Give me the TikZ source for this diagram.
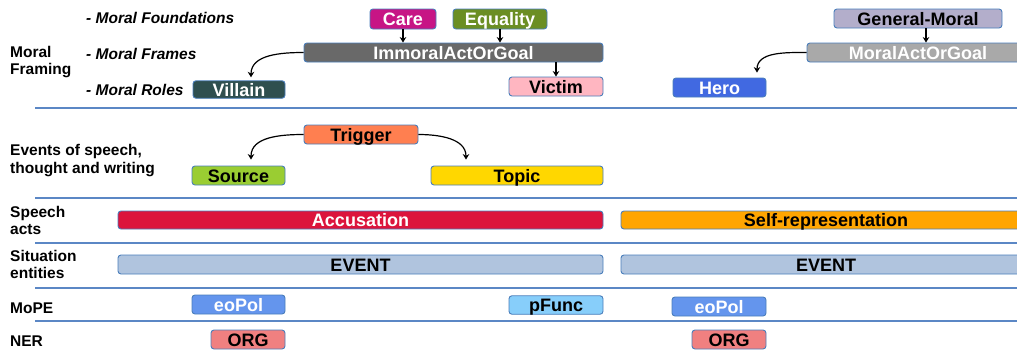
\documentclass[tikz,border=0pt]{standalone}
\usepackage{fontspec}
\setmainfont{Liberation Sans}
\usetikzlibrary{arrows.meta}
\definecolor{boxblue}{HTML}{4A7EBB}
\definecolor{sepblue}{HTML}{5B87C5}
\definecolor{cCare}{HTML}{C71585}
\definecolor{cEquality}{HTML}{6B8E23}
\definecolor{cImm}{HTML}{696969}
\definecolor{cVillain}{HTML}{2F4F4F}
\definecolor{cVictim}{HTML}{FFB6C1}
\definecolor{cGen}{HTML}{B3AECB}
\definecolor{cMoral}{HTML}{A9A9A9}
\definecolor{cHero}{HTML}{4169E1}
\definecolor{cTrigger}{HTML}{FF7F50}
\definecolor{cSource}{HTML}{9ACD32}
\definecolor{cTopic}{HTML}{FFD700}
\definecolor{cAcc}{HTML}{DC143C}
\definecolor{cSelf}{HTML}{FFA500}
\definecolor{cEvent}{HTML}{B0C4DE}
\definecolor{cEoPol}{HTML}{6495ED}
\definecolor{cPFunc}{HTML}{87CEFA}
\definecolor{cOrg}{HTML}{F08080}
\begin{document}
\begin{tikzpicture}[x=1pt,y=-1pt,
  box/.style={draw=boxblue, line width=0.9pt, rounded corners=3pt, inner sep=0pt,
    font=\fontsize{18}{18}\selectfont\bfseries, text height=13pt, text depth=0pt},
  wt/.style={text=white},
  lbl/.style={anchor=base west, inner sep=0pt, align=left,
    font=\fontsize{15.5}{17}\selectfont\bfseries},
  ilbl/.style={anchor=base west, inner sep=0pt,
    font=\fontsize{15.5}{17}\selectfont\bfseries\itshape},
  sep/.style={draw=sepblue, line width=1.2pt},
  arr/.style={draw=black, line width=1.2pt, -{Stealth[length=5.5pt,width=6.5pt]}}]
\clip (0,0) rectangle (1017,351);
\useasboundingbox (0,0) rectangle (1017,351);

% left labels (base anchor = baseline of the last line)
\node[lbl] (lMF) at (10,74) {Moral\\Framing};
\node[ilbl] (lFound) at (86,23.3) {- Moral Foundations};
\node[ilbl] (lFrames) at (86,59) {- Moral Frames};
\node[ilbl] (lRoles) at (86,95) {- Moral Roles};
\node[lbl] (lEv) at (10,173) {Events of speech,\\[1pt]thought and writing};
\node[lbl] (lSp) at (10,234.5) {Speech\\acts};
\node[lbl] (lSit) at (10,278.5) {Situation\\entities};
\node[lbl] (lMoPE) at (10,313) {MoPE};
\node[lbl] (lNER) at (10,346) {NER};

% separators
\coordinate (s1a) at (35,108); \coordinate (s1b) at (1017,108);
\coordinate (s2a) at (35,198); \coordinate (s2b) at (1017,198);
\coordinate (s3a) at (35,243); \coordinate (s3b) at (1017,243);
\coordinate (s4a) at (35,288); \coordinate (s4b) at (1017,288);
\coordinate (s5a) at (35,321); \coordinate (s5b) at (1017,321);
\path[sep] (s1a) -- (s1b) (s2a) -- (s2b) (s3a) -- (s3b) (s4a) -- (s4b) (s5a) -- (s5b);

% moral framing
\node[box, wt, fill=cCare, minimum width=66pt, minimum height=20pt] (care) at (403,19) {Care};
\node[box, wt, fill=cEquality, minimum width=94pt, minimum height=20pt] (equality) at (500,19) {Equality};
\node[box, wt, fill=cImm, minimum width=299pt, minimum height=19pt] (imm) at (453.5,52.5) {ImmoralActOrGoal};
\node[box, wt, fill=cVillain, minimum width=92pt, minimum height=17.5pt] (villain) at (239,89.5) {Villain};
\node[box, fill=cVictim, minimum width=94pt, minimum height=19pt] (victim) at (556,86.5) {Victim};
\node[box, fill=cGen, minimum width=168pt, minimum height=19pt] (gen) at (918,18.5) {General-Moral};
\node[box, wt, fill=cMoral, minimum width=222pt, minimum height=19pt] (moral) at (918,52.5) {MoralActOrGoal};
\node[box, wt, fill=cHero, minimum width=93pt, minimum height=19pt] (hero) at (719.5,87.5) {Hero};

\draw[arr] (care.south) -- (care.south |- imm.north);
\draw[arr] (equality.south) -- (equality.south |- imm.north);
\draw[arr] (victim.north |- imm.south) -- (victim.north);
\draw[arr] ([xshift=8pt]gen.south) -- ([xshift=8pt]gen.south |- moral.north);
\draw[arr] (imm.west) to[out=180,in=90] ([xshift=12pt,yshift=3pt]villain.north);
\draw[arr] (moral.west) to[out=180,in=90] ([xshift=37.5pt,yshift=5pt]hero.north);

% events of speech
\node[box, fill=cTrigger, minimum width=114pt, minimum height=19pt] (trigger) at (361,134.5) {Trigger};
\node[box, fill=cSource, minimum width=93pt, minimum height=19pt] (source) at (238.5,175.5) {Source};
\node[box, fill=cTopic, minimum width=172pt, minimum height=19pt] (topic) at (517,175.5) {Topic};
\draw[arr] (trigger.west) to[out=180,in=90] ([xshift=12.5pt,yshift=6pt]source.north);
\draw[arr] (trigger.east) to[out=0,in=90] ([xshift=-51pt,yshift=6pt]topic.north);

% speech acts
\node[box, wt, fill=cAcc, minimum width=485pt, minimum height=18pt] (acc) at (360.5,220) {Accusation};
\node[box, fill=cSelf, minimum width=410pt, minimum height=18pt] (self) at (826,220) {Self-representation};

% situation entities
\node[box, fill=cEvent, minimum width=485pt, minimum height=19pt] (ev1) at (360.5,264.5) {EVENT};
\node[box, fill=cEvent, minimum width=410pt, minimum height=19pt] (ev2) at (826,264.5) {EVENT};

% MoPE
\node[box, wt, fill=cEoPol, minimum width=93pt, minimum height=19pt] (eo1) at (238.5,304.5) {eoPol};
\node[box, fill=cPFunc, minimum width=94pt, minimum height=18.5pt] (pf) at (556,305) {pFunc};
\node[box, wt, fill=cEoPol, minimum width=94pt, minimum height=19pt] (eo2) at (719,306.5) {eoPol};

% NER
\node[box, fill=cOrg, minimum width=74pt, minimum height=19pt] (org1) at (248,339.5) {ORG};
\node[box, fill=cOrg, minimum width=74pt, minimum height=19pt] (org2) at (729,339.5) {ORG};
\end{tikzpicture}
\end{document}
